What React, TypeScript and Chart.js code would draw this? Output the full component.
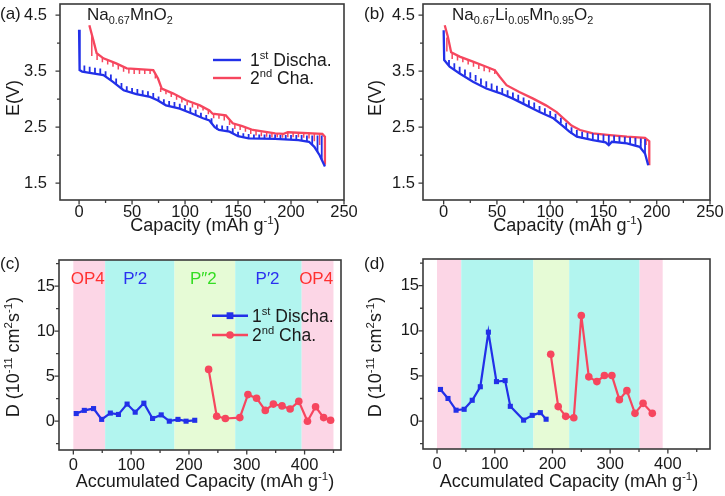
import React, { useEffect, useRef } from "react";
import { Chart, registerables } from "chart.js";
Chart.register(...registerables);

const FONT = '"Liberation Sans", Arial, Helvetica, sans-serif';
const BLUE = "#2230e8";
const RED = "#f6465e";
const FRAME = "#3a3a3a";

// ---------- Panel (a): Na0.67MnO2 GITT curves ----------
const aDisX = [0, 0.5, 3, 10, 23, 32, 42, 54, 67, 74, 82, 95, 107, 117, 123, 128, 132, 142, 150, 160, 185, 207, 217, 222, 227, 232];
const aDisY = [4.24, 3.52, 3.49, 3.47, 3.43, 3.31, 3.16, 3.09, 3.04, 2.98, 2.89, 2.83, 2.74, 2.66, 2.62, 2.5, 2.45, 2.42, 2.34, 2.3, 2.29, 2.27, 2.24, 2.15, 2.0, 1.8];
const aChaX = [232, 232, 229.6, 197, 193, 185, 164, 154, 145, 138.5, 126, 123, 114, 101, 89, 78, 74.5, 70, 45, 35, 23, 16.6, 13.5, 9.7];
const aChaY = [1.83, 2.33, 2.38, 2.41, 2.38, 2.39, 2.45, 2.52, 2.57, 2.71, 2.74, 2.8, 2.89, 2.98, 3.1, 3.19, 3.37, 3.52, 3.55, 3.64, 3.73, 3.82, 4.05, 4.32];
const aDisSpikeX = [5, 10, 15, 20, 25, 30, 35, 40, 45, 50, 55, 60, 65, 70, 75, 80, 85, 90, 95, 100, 105, 110, 115, 120, 125, 130, 135, 140, 145, 150, 155, 160, 165, 170, 175, 180, 185, 190, 195, 200, 205, 210, 215, 220, 225, 229];
const aDisSpikeLo = [3.49, 3.47, 3.45, 3.44, 3.4, 3.34, 3.27, 3.19, 3.13, 3.11, 3.09, 3.07, 3.05, 3.02, 2.97, 2.91, 2.88, 2.86, 2.83, 2.8, 2.76, 2.72, 2.67, 2.63, 2.57, 2.46, 2.44, 2.43, 2.39, 2.34, 2.31, 2.3, 2.3, 2.29, 2.29, 2.29, 2.29, 2.28, 2.28, 2.28, 2.27, 2.26, 2.24, 2.18, 2.06, 1.92];
const aDisSpikeHi = [3.6, 3.58, 3.56, 3.55, 3.5, 3.44, 3.37, 3.29, 3.23, 3.2, 3.18, 3.16, 3.14, 3.11, 3.05, 3.0, 2.97, 2.95, 2.92, 2.89, 2.85, 2.81, 2.76, 2.72, 2.66, 2.55, 2.53, 2.52, 2.48, 2.42, 2.39, 2.38, 2.37, 2.37, 2.37, 2.37, 2.37, 2.36, 2.36, 2.36, 2.36, 2.36, 2.35, 2.35, 2.35, 2.35];
const aChaSpikeX = [12, 17, 22, 27, 32, 37, 42, 47, 52, 57, 62, 67, 72, 77, 82, 87, 92, 97, 102, 107, 112, 117, 122, 127, 132, 137, 142, 147, 152, 157, 162, 167, 172, 177, 182, 187, 192, 197, 202, 207, 212, 217, 222, 227];
const aChaSpikeHi = [4.14, 3.8, 3.74, 3.7, 3.66, 3.61, 3.57, 3.54, 3.52, 3.52, 3.52, 3.52, 3.45, 3.2, 3.16, 3.11, 3.06, 3.01, 2.96, 2.92, 2.9, 2.87, 2.8, 2.73, 2.72, 2.7, 2.62, 2.55, 2.53, 2.5, 2.46, 2.43, 2.41, 2.4, 2.39, 2.39, 2.38, 2.4, 2.4, 2.4, 2.4, 2.4, 2.39, 2.38];
const aChaSpikeLo = [3.77, 3.7, 3.66, 3.62, 3.58, 3.53, 3.49, 3.46, 3.45, 3.45, 3.45, 3.45, 3.37, 3.13, 3.09, 3.04, 2.99, 2.94, 2.89, 2.85, 2.83, 2.8, 2.73, 2.66, 2.65, 2.62, 2.54, 2.47, 2.45, 2.42, 2.38, 2.35, 2.34, 2.33, 2.32, 2.32, 2.31, 2.32, 2.32, 2.32, 2.31, 2.3, 2.25, 2.18];

// ---------- Panel (b): Na0.67Li0.05Mn0.95O2 GITT curves ----------
const bDisX = [0, 0.5, 5.6, 15, 27.5, 40, 52.6, 65, 77.7, 90, 103, 112, 118, 125, 140, 152, 155, 158, 172, 184, 189, 192];
const bDisY = [4.23, 3.7, 3.58, 3.46, 3.31, 3.19, 3.11, 3.01, 2.89, 2.77, 2.66, 2.52, 2.42, 2.33, 2.27, 2.23, 2.18, 2.24, 2.21, 2.15, 2.03, 1.82];
const bChaX = [193, 193, 189, 172, 156, 140, 128, 120, 113, 106, 96, 84, 71, 59, 52.6, 48, 40, 27.5, 15, 7, 4, 1];
const bChaY = [1.82, 2.25, 2.31, 2.33, 2.36, 2.39, 2.45, 2.53, 2.65, 2.77, 2.89, 3.01, 3.13, 3.25, 3.4, 3.52, 3.58, 3.67, 3.76, 3.84, 4.11, 4.32];
const bDisSpikeX = [5, 10, 15, 20, 25, 30, 35, 40, 45, 50, 55, 60, 65, 70, 75, 80, 85, 90, 95, 100, 105, 110, 115, 120, 125, 130, 135, 140, 145, 150, 155, 160, 165, 170, 175, 180, 185, 189];
const bDisSpikeLo = [3.6, 3.53, 3.47, 3.42, 3.37, 3.32, 3.26, 3.21, 3.17, 3.13, 3.1, 3.06, 3.02, 2.98, 2.93, 2.88, 2.84, 2.78, 2.74, 2.69, 2.65, 2.57, 2.47, 2.38, 2.33, 2.3, 2.28, 2.27, 2.26, 2.25, 2.2, 2.23, 2.22, 2.21, 2.19, 2.17, 2.13, 2.03];
const bDisSpikeHi = [3.7, 3.64, 3.58, 3.53, 3.48, 3.43, 3.37, 3.32, 3.28, 3.24, 3.2, 3.16, 3.12, 3.08, 3.03, 2.98, 2.94, 2.88, 2.84, 2.79, 2.74, 2.67, 2.58, 2.5, 2.45, 2.42, 2.4, 2.39, 2.38, 2.37, 2.36, 2.35, 2.34, 2.33, 2.32, 2.31, 2.3, 2.29];
const bChaSpikeX = [3, 8, 13, 18, 23, 28, 33, 38, 43, 48, 155, 160, 165, 170, 175, 180, 185, 190];
const bChaSpikeHi = [4.1, 3.82, 3.77, 3.74, 3.7, 3.66, 3.62, 3.58, 3.56, 3.53, 2.36, 2.35, 2.34, 2.33, 2.33, 2.32, 2.32, 2.3];
const bChaSpikeLo = [3.85, 3.72, 3.69, 3.66, 3.62, 3.58, 3.54, 3.5, 3.48, 3.45, 2.32, 2.3, 2.29, 2.28, 2.27, 2.25, 2.22, 2.18];

// ---------- Panel (c): diffusion coefficients, Na0.67MnO2 ----------
const cDisX = [5, 19, 35, 49, 64, 78, 93, 107, 122, 137, 152, 166, 181, 195, 210];
const cDisD = [0.85, 1.2, 1.4, 0.2, 0.9, 0.75, 1.9, 1.0, 2.0, 0.3, 0.7, 0.0, 0.2, 0.0, 0.1];
const cChaX = [234, 248, 263, 288, 302, 317, 332, 346, 361, 375, 390, 405, 419, 433, 445];
const cChaD = [5.75, 0.55, 0.3, 0.4, 2.95, 2.55, 1.2, 1.9, 1.7, 1.35, 2.2, 0.0, 1.6, 0.4, 0.1];
const cBandEdges = [0, 55, 175, 280, 395, 450];
const cPhaseNames = ["OP4", "P\u20322", "P\u20332", "P\u20322", "OP4"];
const cPhaseX = [25, 107, 225, 336, 420];

// ---------- Panel (d): diffusion coefficients, Na0.67Li0.05Mn0.95O2 ----------
const dDisX = [6, 19, 33, 47, 61, 75, 89, 103, 118, 127, 150, 165, 179, 189];
const dDisD = [3.5, 2.5, 1.2, 1.3, 2.3, 3.8, 9.85, 4.37, 4.48, 1.63, 0.1, 0.63, 0.93, 0.2];
const dChaX = [197, 210, 223, 237, 250, 263, 277, 290, 303, 316, 329, 343, 357, 373];
const dChaD = [7.4, 1.6, 0.52, 0.37, 11.7, 4.9, 4.37, 5.04, 5.04, 2.37, 3.37, 0.85, 1.96, 0.85];
const dBandEdges = [0, 42, 167, 229, 351, 391];

const bandColors = ["#fcd6e6", "#b2f5ef", "#e6fbd6", "#b2f5ef", "#fcd6e6"];
const phaseColors = ["#ff3030", "#2a30f0", "#33dd22", "#2a30f0", "#ff3030"];

// ---------- Ticks ----------
const capTicks = [0, 50, 100, 150, 200, 250];
const capMinor = [25, 75, 125, 175, 225];
const voltTicks = [1.5, 2.5, 3.5, 4.5];
const voltMinor = [2, 3, 4];
const accTicks = [0, 100, 200, 300, 400];
const accMinor = [50, 150, 250, 350, 450];
const dTicks = [0, 5, 10, 15];
const dMinor = [-2.5, 2.5, 7.5, 12.5, 17.5];

type Seg = [string, number];

function drawRich(ctx: CanvasRenderingContext2D, segs: Seg[], x: number, y: number, size: number, color: string, align: string) {
  const small = size * 0.64;
  let w = 0;
  const parts = segs.map(([t, k]) => {
    const fs = k === 0 ? size : small;
    ctx.font = `${fs}px ${FONT}`;
    const m = ctx.measureText(t).width;
    w += m;
    return { t, k, fs, m };
  });
  let cx = align === "center" ? x - w / 2 : x;
  ctx.fillStyle = color;
  ctx.textBaseline = "alphabetic";
  ctx.textAlign = "left";
  for (const p of parts) {
    ctx.font = `${p.fs}px ${FONT}`;
    const dy = p.k === 1 ? -size * 0.4 : p.k === -1 ? size * 0.24 : 0;
    ctx.fillText(p.t, cx, y + dy);
    cx += p.m;
  }
}

function spikeData(xs: number[], lo: number[], hi: number[]) {
  const out: any[] = [];
  xs.forEach((x, i) => {
    out.push({ x, y: lo[i] }, { x, y: hi[i] }, { x, y: null });
  });
  return out;
}

function xy(xs: number[], ys: number[]) {
  return xs.map((x, i) => ({ x, y: ys[i] }));
}

const decoPlugin = {
  id: "deco",
  beforeDatasetsDraw(chart: any) {
    const o = chart.options.plugins.deco;
    if (!o || !o.bands) return;
    const { ctx, chartArea: a } = chart;
    const xs = chart.scales.x;
    ctx.save();
    for (let i = 0; i < o.bands.length - 1; i++) {
      const x0 = xs.getPixelForValue(o.bands[i]);
      const x1 = xs.getPixelForValue(o.bands[i + 1]);
      ctx.fillStyle = bandColors[i];
      ctx.fillRect(x0, a.top, x1 - x0, a.bottom - a.top);
    }
    ctx.restore();
  },
  afterDraw(chart: any) {
    const o = chart.options.plugins.deco;
    const { ctx, chartArea: a } = chart;
    const xs = chart.scales.x;
    const ys = chart.scales.y;
    ctx.save();
    ctx.strokeStyle = FRAME;
    ctx.lineWidth = 1.3;
    ctx.beginPath();
    o.xMajor.forEach((v: number) => { const p = xs.getPixelForValue(v); ctx.moveTo(p, a.bottom); ctx.lineTo(p, a.bottom + 4.5); });
    o.xMinor.forEach((v: number) => { const p = xs.getPixelForValue(v); if (p <= a.right) { ctx.moveTo(p, a.bottom); ctx.lineTo(p, a.bottom + 3); } });
    o.yMajor.forEach((v: number) => { const p = ys.getPixelForValue(v); ctx.moveTo(a.left, p); ctx.lineTo(a.left - 4.5, p); });
    o.yMinor.forEach((v: number) => { const p = ys.getPixelForValue(v); if (p >= a.top) { ctx.moveTo(a.left, p); ctx.lineTo(a.left - 3, p); } });
    ctx.stroke();
    ctx.lineWidth = 1.6;
    ctx.strokeRect(a.left, a.top, a.right - a.left, a.bottom - a.top);
    for (const t of o.texts) {
      if (t.rot) {
        ctx.save();
        ctx.translate(t.x, t.y);
        ctx.rotate(-Math.PI / 2);
        drawRich(ctx, t.segs, 0, 0, t.size, t.color || "#1a1a1a", "center");
        ctx.restore();
      } else {
        drawRich(ctx, t.segs, t.x, t.y, t.size, t.color || "#1a1a1a", t.align || "left");
      }
    }
    if (o.phases) {
      o.phases.names.forEach((n: string, i: number) => {
        const p = xs.getPixelForValue(o.phases.xs[i]);
        drawRich(ctx, [[n, 0]], p, o.phases.y, 17, phaseColors[i], "center");
      });
    }
    if (o.legend) {
      const L = o.legend;
      L.items.forEach((it: any) => {
        ctx.strokeStyle = it.color;
        ctx.lineWidth = 2.4;
        ctx.beginPath();
        ctx.moveTo(L.x0, it.y);
        ctx.lineTo(L.x1, it.y);
        ctx.stroke();
        if (it.marker) {
          ctx.fillStyle = it.color;
          const mx = (L.x0 + L.x1) / 2;
          if (it.marker === "rect") ctx.fillRect(mx - 3.4, it.y - 3.4, 6.8, 6.8);
          else { ctx.beginPath(); ctx.arc(mx, it.y, 3.8, 0, Math.PI * 2); ctx.fill(); }
        }
        drawRich(ctx, it.segs, L.tx, it.y + 6.3, 17.5, "#1a1a1a", "left");
      });
    }
    ctx.restore();
  },
};

function makeConfig(s: any) {
  return {
    type: "line",
    data: { datasets: s.datasets },
    plugins: [decoPlugin],
    options: {
      animation: false,
      responsive: false,
      maintainAspectRatio: false,
      events: [],
      layout: { padding: { left: 0, top: s.T, right: s.W - s.R, bottom: 0 } },
      plugins: {
        legend: { display: false },
        tooltip: { enabled: false },
        deco: s.deco,
      },
      elements: { line: { tension: 0 } },
      scales: {
        x: {
          type: "linear",
          min: s.xMin,
          max: s.xMax,
          grid: { display: false, drawTicks: false },
          border: { display: false },
          afterBuildTicks: (sc: any) => { sc.ticks = s.deco.xMajor.map((v: number) => ({ value: v })); },
          afterFit: (sc: any) => { sc.height = s.H - s.B; sc.paddingLeft = 0; sc.paddingRight = 0; },
          ticks: {
            autoSkip: false,
            maxRotation: 0,
            padding: s.xPad,
            color: "#1a1a1a",
            font: { family: FONT, size: 16.5 },
            callback: (v: number) => String(v),
          },
        },
        y: {
          type: "linear",
          min: s.yMin,
          max: s.yMax,
          grid: { display: false, drawTicks: false },
          border: { display: false },
          afterBuildTicks: (sc: any) => { sc.ticks = s.deco.yMajor.map((v: number) => ({ value: v })); },
          afterFit: (sc: any) => { sc.width = s.L; sc.paddingTop = 0; sc.paddingBottom = 0; },
          ticks: {
            autoSkip: false,
            padding: s.yPad,
            color: "#1a1a1a",
            font: { family: FONT, size: 16.5 },
            callback: (v: number) => (s.yFixed ? Number(v).toFixed(1) : String(v)),
          },
        },
      },
    },
  };
}

function curveSet(data: any[], color: string, width: number) {
  return { data, borderColor: color, borderWidth: width, pointRadius: 0, fill: false, spanGaps: false };
}

function pointSet(data: any[], color: string, style: string) {
  return {
    data, borderColor: color, backgroundColor: color, borderWidth: 2.2,
    pointStyle: style, pointRadius: style === "rect" ? 3.6 : 3.8, pointBorderWidth: 0, fill: false,
  };
}

const legendTop = (y1: number, y2: number, x0: number, x1: number, tx: number, markers: boolean) => ({
  x0, x1, tx,
  items: [
    { y: y1, color: BLUE, marker: markers ? "rect" : null, segs: [["1", 0], ["st", 1], [" Discha.", 0]] },
    { y: y2, color: RED, marker: markers ? "circle" : null, segs: [["2", 0], ["nd", 1], [" Cha.", 0]] },
  ],
});

const capTitle: Seg[] = [["Capacity (mAh g", 0], ["-1", 1], [")", 0]];
const accTitle: Seg[] = [["Accumulated Capacity (mAh g", 0], ["-1", 1], [")", 0]];
const dTitle: Seg[] = [["D (10", 0], ["-11", 1], [" cm", 0], ["2", 1], ["s", 0], ["-1", 1], [")", 0]];
const eTitle: Seg[] = [["E(V)", 0]];

const specA = {
  W: 362, H: 250, L: 60, T: 4, R: 344, B: 200,
  xMin: -18, xMax: 250, yMin: 1.2, yMax: 4.7, xPad: 3, yPad: 13, yFixed: true,
  datasets: [
    curveSet(spikeData(aDisSpikeX, aDisSpikeLo, aDisSpikeHi), BLUE, 1.8),
    curveSet(spikeData(aChaSpikeX, aChaSpikeLo, aChaSpikeHi), RED, 1.5),
    curveSet(xy(aDisX, aDisY), BLUE, 2.3),
    curveSet(xy(aChaX, aChaY), RED, 2.3),
  ],
  deco: {
    xMajor: capTicks, xMinor: capMinor, yMajor: voltTicks, yMinor: voltMinor,
    texts: [
      { segs: [["(a)", 0]], x: 0, y: 19, size: 17 },
      { segs: [["Na", 0], ["0.67", -1], ["MnO", 0], ["2", -1]], x: 87, y: 20, size: 17 },
      { segs: capTitle, x: 205, y: 231, size: 18, align: "center" },
      { segs: eTitle, x: 19, y: 98, size: 18, rot: true },
    ],
    legend: legendTop(60, 78, 213, 241, 250, false),
  },
};

const specB = {
  W: 363, H: 250, L: 61, T: 4, R: 348, B: 200,
  xMin: -19.4, xMax: 250, yMin: 1.2, yMax: 4.7, xPad: 3, yPad: 8, yFixed: true,
  datasets: [
    curveSet(spikeData(bDisSpikeX, bDisSpikeLo, bDisSpikeHi), BLUE, 1.8),
    curveSet(spikeData(bChaSpikeX, bChaSpikeLo, bChaSpikeHi), RED, 1.5),
    curveSet(xy(bDisX, bDisY), BLUE, 2.3),
    curveSet(xy(bChaX, bChaY), RED, 2.3),
  ],
  deco: {
    xMajor: capTicks, xMinor: capMinor, yMajor: voltTicks, yMinor: voltMinor,
    texts: [
      { segs: [["(b)", 0]], x: 2, y: 19, size: 17 },
      { segs: [["Na", 0], ["0.67", -1], ["Li", 0], ["0.05", -1], ["Mn", 0], ["0.95", -1], ["O", 0], ["2", -1]], x: 90, y: 20, size: 17 },
      { segs: capTitle, x: 206, y: 231, size: 18, align: "center" },
      { segs: eTitle, x: 19, y: 98, size: 18, rot: true },
    ],
  },
};

const specC = {
  W: 362, H: 246, L: 59, T: 10, R: 341, B: 200,
  xMin: -24.8, xMax: 463, yMin: -3.2, yMax: 17.9, xPad: 6, yPad: 4, yFixed: false,
  datasets: [
    pointSet(xy(cDisX, cDisD), BLUE, "rect"),
    pointSet(xy(cChaX, cChaD), RED, "circle"),
  ],
  deco: {
    xMajor: accTicks, xMinor: accMinor, yMajor: dTicks, yMinor: dMinor,
    bands: cBandEdges,
    phases: { names: cPhaseNames, xs: cPhaseX, y: 34 },
    texts: [
      { segs: [["(c)", 0]], x: 0, y: 19, size: 17 },
      { segs: accTitle, x: 205, y: 237, size: 18, align: "center" },
      { segs: dTitle, x: 19, y: 107, size: 18, rot: true },
    ],
    legend: legendTop(65.7, 85, 212, 248, 252, true),
  },
};

const specD = {
  W: 363, H: 246, L: 61, T: 9, R: 348, B: 199,
  xMin: -24.3, xMax: 473, yMin: -3.1, yMax: 17.96, xPad: 6, yPad: 4, yFixed: false,
  datasets: [
    pointSet(xy(dDisX, dDisD), BLUE, "rect"),
    pointSet(xy(dChaX, dChaD), RED, "circle"),
  ],
  deco: {
    xMajor: accTicks, xMinor: accMinor, yMajor: dTicks, yMinor: dMinor,
    bands: dBandEdges,
    texts: [
      { segs: [["(d)", 0]], x: 2, y: 19, size: 17 },
      { segs: accTitle, x: 207, y: 237, size: 18, align: "center" },
      { segs: dTitle, x: 19, y: 107, size: 18, rot: true },
    ],
  },
};

function Panel({ spec, left, top }: { spec: any; left: number; top: number }) {
  const ref = useRef<HTMLCanvasElement>(null);
  useEffect(() => {
    if (!ref.current) return;
    const chart = new Chart(ref.current, makeConfig(spec) as any);
    return () => chart.destroy();
  }, [spec]);
  return (
    <canvas
      ref={ref}
      width={spec.W}
      height={spec.H}
      style={{ position: "absolute", left, top, width: spec.W, height: spec.H }}
    />
  );
}

export default function App() {
  return (
    <div style={{ position: "fixed", left: 0, top: 0, width: 725, height: 496, background: "#fff" }}>
      <Panel spec={specA} left={0} top={0} />
      <Panel spec={specB} left={362} top={0} />
      <Panel spec={specC} left={0} top={250} />
      <Panel spec={specD} left={362} top={250} />
    </div>
  );
}
